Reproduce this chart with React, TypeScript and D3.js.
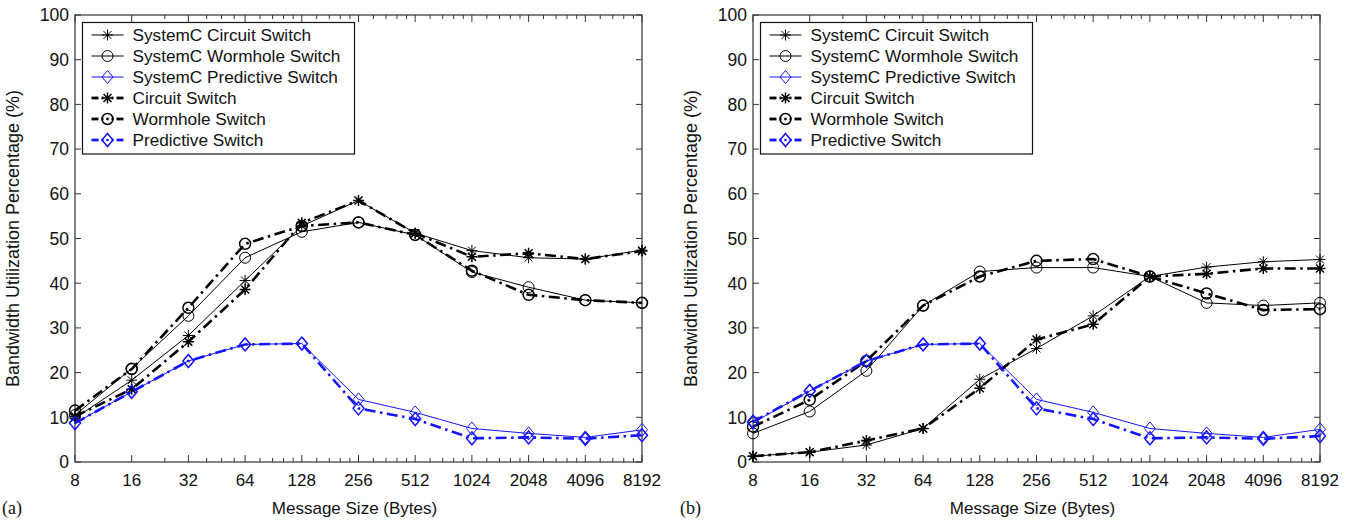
import * as d3 from "d3";

// message sizes (bytes) on the x axis
const sizes = [8, 16, 32, 64, 128, 256, 512, 1024, 2048, 4096, 8192];
const yTicks = [0, 10, 20, 30, 40, 50, 60, 70, 80, 90, 100];

// panel (a)
const aSysCircuit = [9.8, 18.3, 28.3, 40.6, 52.8, 58.5, 51.2, 47.3, 45.7, 45.4, 47.4];
const aSysWormhole = [10.5, 20.9, 32.7, 45.7, 51.5, 53.6, 50.8, 42.5, 39.1, 36.2, 35.6];
const aSysPredictive = [8.7, 15.7, 22.6, 26.3, 26.5, 14.0, 11.1, 7.5, 6.4, 5.5, 7.2];
const aCircuit = [10.2, 16.3, 26.9, 38.6, 53.5, 58.5, 51.2, 45.9, 46.7, 45.4, 47.2];
const aWormhole = [11.5, 20.8, 34.5, 48.8, 52.8, 53.6, 50.8, 42.8, 37.4, 36.2, 35.6];
const aPredictive = [8.7, 15.7, 22.6, 26.3, 26.5, 12.0, 9.6, 5.3, 5.5, 5.2, 6.0];

// panel (b)
const bSysCircuit = [1.3, 2.2, 3.8, 7.5, 18.5, 25.4, 32.7, 41.5, 43.6, 44.8, 45.3];
const bSysWormhole = [6.4, 11.3, 20.4, 35.0, 42.6, 43.5, 43.5, 41.5, 35.6, 35.0, 35.6];
const bSysPredictive = [8.8, 15.9, 22.6, 26.3, 26.5, 14.0, 11.1, 7.5, 6.4, 5.5, 7.3];
const bCircuit = [1.3, 2.2, 4.8, 7.5, 16.5, 27.4, 30.8, 41.5, 42.1, 43.3, 43.3];
const bWormhole = [7.9, 13.9, 22.6, 35.0, 41.5, 45.0, 45.4, 41.5, 37.7, 34.0, 34.2];
const bPredictive = [9.0, 15.9, 22.6, 26.3, 26.5, 12.0, 9.6, 5.3, 5.5, 5.2, 5.8];

const legendNames = [
  "SystemC Circuit Switch",
  "SystemC Wormhole Switch",
  "SystemC Predictive Switch",
  "Circuit Switch",
  "Wormhole Switch",
  "Predictive Switch",
];

const BLUE = "#1414ff";
const FONT = "'Liberation Sans', Arial, Helvetica, sans-serif";
const DASH = "11,4.5,2.5,4.5";

type Series = { name: string; values: number[]; marker: string; color: string; thick: boolean };

const makeSeries = (v: number[][]): Series[] => [
  { name: legendNames[0], values: v[0], marker: "star", color: "#000", thick: false },
  { name: legendNames[1], values: v[1], marker: "circle", color: "#000", thick: false },
  { name: legendNames[2], values: v[2], marker: "diamond", color: BLUE, thick: false },
  { name: legendNames[3], values: v[3], marker: "star", color: "#000", thick: true },
  { name: legendNames[4], values: v[4], marker: "circle", color: "#000", thick: true },
  { name: legendNames[5], values: v[5], marker: "diamond", color: BLUE, thick: true },
];

const Marker = ({ type, x, y, color, thick, dot }: any) => {
  const sw = thick ? 1.5 : 1;
  if (type === "star") {
    const r = 5.5;
    const d = r * 0.72;
    return (
      <path
        d={`M${x - r},${y}H${x + r}M${x},${y - r}V${y + r}M${x - d},${y - d}L${x + d},${y + d}M${x - d},${y + d}L${x + d},${y - d}`}
        stroke={color}
        strokeWidth={sw}
        fill="none"
      />
    );
  }
  if (type === "circle") {
    return (
      <g>
        <circle cx={x} cy={y} r={5.5} fill="none" stroke={color} strokeWidth={sw} />
        {dot && <circle cx={x} cy={y} r={1.4} fill={color} />}
      </g>
    );
  }
  return (
    <g>
      <path
        d={`M${x},${y - 6.5}L${x + 5.5},${y}L${x},${y + 6.5}L${x - 5.5},${y}Z`}
        fill="none"
        stroke={color}
        strokeWidth={sw}
      />
      {dot && <circle cx={x} cy={y} r={1.3} fill={color} />}
    </g>
  );
};

const Panel = ({ left, right, series, tag }: any) => {
  const top = 15;
  const bottom = 462;
  const x = d3.scaleLog().base(2).domain([8, 8192]).range([left, right]);
  const y = d3.scaleLinear().domain([0, 100]).range([bottom, top]);

  // minor ticks between the octaves
  const minor: number[] = [];
  sizes.slice(0, -1).forEach((s, i) => {
    const steps = i === 0 ? [] : i === 1 ? [1.5] : i === 2 ? [1.25, 1.5, 1.75] : [1.2, 1.4, 1.6, 1.8];
    steps.forEach((f) => minor.push(s * f));
  });

  const line = d3
    .line<number>()
    .x((_, i) => x(sizes[i]))
    .y((d) => y(d));

  const axisColor = "#333";
  const legX = left + 7.5;
  const legY = 22.5;
  const legW = 272;
  const rowH = 21;

  return (
    <g fontFamily={FONT}>
      {/* frame */}
      <rect x={left} y={top} width={right - left} height={bottom - top} fill="none" stroke={axisColor} strokeWidth={1.2} />
      {yTicks.map((t) => (
        <g key={"y" + t}>
          <line x1={left} x2={left + 6} y1={y(t)} y2={y(t)} stroke={axisColor} />
          <line x1={right} x2={right - 6} y1={y(t)} y2={y(t)} stroke={axisColor} />
          <text x={left - 6} y={y(t)} dy="0.36em" textAnchor="end" fontSize={17.5} fill="#111">
            {t}
          </text>
        </g>
      ))}
      {sizes.map((s) => (
        <g key={"x" + s}>
          <line x1={x(s)} x2={x(s)} y1={bottom} y2={bottom - 7} stroke={axisColor} />
          <line x1={x(s)} x2={x(s)} y1={top} y2={top + 7} stroke={axisColor} />
          <text x={x(s)} y={bottom + 24} textAnchor="middle" fontSize={17} fill="#111">
            {s}
          </text>
        </g>
      ))}
      {minor.map((m, i) => (
        <g key={"m" + i}>
          <line x1={x(m)} x2={x(m)} y1={bottom} y2={bottom - 4} stroke={axisColor} />
          <line x1={x(m)} x2={x(m)} y1={top} y2={top + 4} stroke={axisColor} />
        </g>
      ))}
      <text
        transform={`translate(${left - 56},${(top + bottom) / 2}) rotate(-90)`}
        textAnchor="middle"
        fontSize={18}
        fill="#111"
      >
        Bandwidth Utilization Percentage (%)
      </text>
      <text x={(left + right) / 2 - 4} y={514} textAnchor="middle" fontSize={17} fill="#111">
        Message Size (Bytes)
      </text>
      <text x={left - 73} y={514} fontSize={18} fontFamily="'Liberation Serif', 'Times New Roman', serif" fill="#111">
        {tag}
      </text>

      {/* series */}
      {series.map((s: Series, si: number) => (
        <g key={"s" + si}>
          <path
            d={line(s.values) as string}
            fill="none"
            stroke={s.color}
            strokeWidth={s.thick ? 2.6 : 1}
            strokeDasharray={s.thick ? DASH : undefined}
          />
          {s.values.map((v, i) => (
            <Marker key={i} type={s.marker} x={x(sizes[i])} y={y(v)} color={s.color} thick={s.thick} />
          ))}
        </g>
      ))}

      {/* legend */}
      <rect x={legX} y={legY} width={legW} height={rowH * 6 + 5.5} fill="#fff" stroke="#111" strokeWidth={1.2} />
      {series.map((s: Series, i: number) => {
        const cy = legY + 12.5 + i * rowH;
        return (
          <g key={"l" + i}>
            {s.thick ? (
              <g stroke={s.color} strokeWidth={2.8}>
                <line x1={legX + 9} x2={legX + 16} y1={cy} y2={cy} />
                <line x1={legX + 19} x2={legX + 21} y1={cy} y2={cy} />
                <line x1={legX + 29} x2={legX + 31} y1={cy} y2={cy} />
                <line x1={legX + 34} x2={legX + 41} y1={cy} y2={cy} />
              </g>
            ) : (
              <line x1={legX + 9} x2={legX + 41} y1={cy} y2={cy} stroke={s.color} strokeWidth={1} />
            )}
            <Marker type={s.marker} x={legX + 25} y={cy} color={s.color} thick={s.thick} dot={s.thick} />
            <text x={legX + 50} y={cy} dy="0.36em" fontSize={17.2} fill="#111">
              {s.name}
            </text>
          </g>
        );
      })}
    </g>
  );
};

export default function App() {
  const seriesA = makeSeries([aSysCircuit, aSysWormhole, aSysPredictive, aCircuit, aWormhole, aPredictive]);
  const seriesB = makeSeries([bSysCircuit, bSysWormhole, bSysPredictive, bCircuit, bWormhole, bPredictive]);
  return (
    <svg width={1354} height={522} style={{ position: "absolute", left: 0, top: 0, background: "#fff" }}>
      <rect width={1354} height={522} fill="#fff" />
      <Panel left={75} right={642} series={seriesA} tag="(a)" />
      <Panel left={753} right={1320} series={seriesB} tag="(b)" />
    </svg>
  );
}
